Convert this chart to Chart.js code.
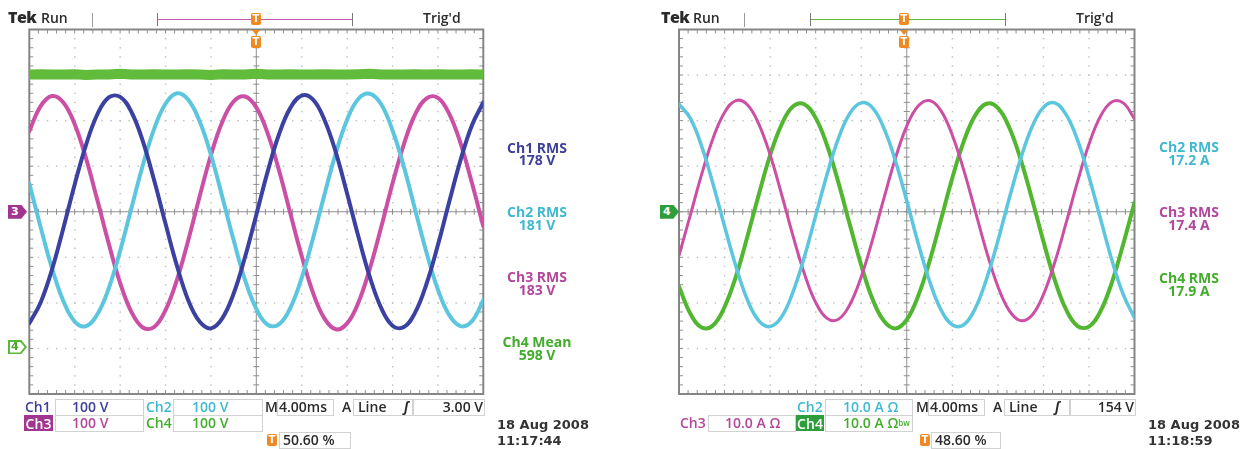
<!DOCTYPE html>
<html><head><meta charset="utf-8">
<script src="https://cdn.jsdelivr.net/npm/chart.js@4.4.1/dist/chart.umd.min.js"></script>
<style>
html,body{margin:0;padding:0;background:#fff;}
#page{position:relative;width:1250px;height:449px;overflow:hidden;font-family:"Open Sans",sans-serif;color:#2b2b2b;}
canvas{position:absolute;top:0;}
.t{position:absolute;white-space:nowrap;font-size:14px;line-height:14px;font-weight:600;}
.m{position:absolute;white-space:nowrap;font-size:14px;line-height:14px;font-weight:700;text-align:center;width:120px;}
.d{position:absolute;white-space:nowrap;font:bold 13px/13px "DejaVu Sans",sans-serif;color:#333;}
.box{position:absolute;border:1px solid #d2d2d2;box-sizing:border-box;}
.vl{position:absolute;width:1px;background:#9a9a9a;}
.trg{position:absolute;width:10px;height:12px;background:#f0891f;color:#fff;font:bold 10px/12px "DejaVu Sans",sans-serif;text-align:center;border-radius:2px;}
.tri{position:absolute;width:0;height:0;border-left:4px solid transparent;border-right:4px solid transparent;border-top:5px solid #f0891f;}
.mk{position:absolute;width:19px;height:14px;clip-path:polygon(0 0,70% 0,100% 50%,70% 100%,0 100%);color:#fff;font:bold 11px/14px "DejaVu Sans",sans-serif;text-indent:3px;}
.mki{position:absolute;left:1.5px;top:1.5px;width:15px;height:11px;background:#fff;clip-path:polygon(0 0,70% 0,100% 50%,70% 100%,0 100%);}
.brk{position:absolute;width:1px;height:13px;background:#777;}
.hl{position:absolute;height:1.5px;}
</style></head>
<body><div id="page">
<canvas id="cL" width="500" height="410" style="left:0"></canvas>
<canvas id="cR" width="500" height="410" style="left:650px"></canvas>

<!-- ===== left scope header ===== -->
<div class="t" style="left:8px;top:10px;font-size:16px;font-weight:800;letter-spacing:-0.5px">Tek</div>
<div class="t" style="left:41px;top:11px;font-size:14px">Run</div>
<div class="vl" style="left:92px;top:13px;height:14px"></div>
<div class="brk" style="left:157px;top:13px"></div>
<div class="brk" style="left:352px;top:13px"></div>
<div class="hl" style="left:158px;top:18.5px;width:194px;background:#c65aa8"></div>
<div class="trg" style="left:251px;top:13px">T</div>
<div class="tri" style="left:252px;top:30px"></div>
<div class="trg" style="left:251px;top:36px">T</div>
<div class="t" style="left:423px;top:11px;font-size:14px">Trig'd</div>

<!-- left measurements -->
<div class="m" style="left:477px;top:140.6px;color:#3d3f98">Ch1 RMS</div>
<div class="m" style="left:477px;top:152.6px;color:#3d3f98">178 V</div>
<div class="m" style="left:477px;top:204.6px;color:#3fb9d1">Ch2 RMS</div>
<div class="m" style="left:477px;top:217.6px;color:#3fb9d1">181 V</div>
<div class="m" style="left:477px;top:269.6px;color:#b2479b">Ch3 RMS</div>
<div class="m" style="left:477px;top:282.6px;color:#b2479b">183 V</div>
<div class="m" style="left:477px;top:334.6px;color:#42ad2c">Ch4 Mean</div>
<div class="m" style="left:477px;top:347.6px;color:#42ad2c">598 V</div>

<!-- left markers -->
<div class="mk" id="mkL3" style="left:8px;background:#a2358f">3</div>
<div class="mk" id="mkL4" style="left:8px;background:#5cb83a"><div class="mki"></div><span style="position:relative;color:#4aa82c">4</span></div>

<!-- left footer -->
<div class="box" style="left:55px;top:399px;width:89px;height:17px"></div>
<div class="box" style="left:55px;top:415px;width:89px;height:17px"></div>
<div class="box" style="left:173px;top:399px;width:90px;height:17px"></div>
<div class="box" style="left:173px;top:415px;width:90px;height:17px"></div>
<div class="t" style="left:25px;top:400px;color:#3d3f98">Ch1</div>
<div class="t" style="left:72px;top:400px;color:#3d3f98">100 V</div>
<div class="t" style="left:146px;top:400px;color:#3fb9d1">Ch2</div>
<div class="t" style="left:192px;top:400px;color:#3fb9d1">100 V</div>
<div class="t" style="left:265px;top:400px">M</div>
<div class="box" style="left:277px;top:399px;width:57px;height:17px"></div>
<div class="t" style="left:279px;top:400px">4.00ms</div>
<div class="t" style="left:342px;top:400px">A</div>
<div class="box" style="left:353px;top:399px;width:60px;height:17px"></div>
<div class="t" style="left:358px;top:400px">Line</div>
<div class="t" style="left:404px;top:400px;font-style:italic">ʃ</div>
<div class="box" style="left:413px;top:399px;width:72px;height:17px"></div>
<div class="t" style="left:440px;top:400px;width:43px;text-align:right">3.00 V</div>
<div class="t" style="left:24px;top:415px;width:29px;height:16px;background:#a2358f;color:#fff;text-align:center;line-height:17px">Ch3</div>
<div class="t" style="left:72px;top:416px;color:#b2479b">100 V</div>
<div class="t" style="left:146px;top:416px;color:#42ad2c">Ch4</div>
<div class="t" style="left:192px;top:416px;color:#42ad2c">100 V</div>
<div class="trg" style="left:267px;top:434px">T</div>
<div class="box" style="left:279px;top:432px;width:72px;height:17px"></div>
<div class="t" style="left:283px;top:433px">50.60 %</div>
<div class="d" style="left:497px;top:418px">18 Aug 2008</div>
<div class="d" style="left:497px;top:434px">11:17:44</div>

<!-- ===== right scope header ===== -->
<div class="t" style="left:661px;top:10px;font-size:16px;font-weight:800;letter-spacing:-0.5px">Tek</div>
<div class="t" style="left:693px;top:11px;font-size:14px">Run</div>
<div class="vl" style="left:744px;top:13px;height:14px"></div>
<div class="brk" style="left:810px;top:13px"></div>
<div class="brk" style="left:1005px;top:13px"></div>
<div class="hl" style="left:811px;top:18.5px;width:194px;background:#5cb83a"></div>
<div class="trg" style="left:899px;top:13px">T</div>
<div class="tri" style="left:900px;top:30px"></div>
<div class="trg" style="left:899px;top:36px">T</div>
<div class="t" style="left:1076px;top:11px;font-size:14px">Trig'd</div>

<!-- right measurements -->
<div class="m" style="left:1129px;top:139.6px;color:#3fb9d1">Ch2 RMS</div>
<div class="m" style="left:1129px;top:152.6px;color:#3fb9d1">17.2 A</div>
<div class="m" style="left:1129px;top:204.6px;color:#b2479b">Ch3 RMS</div>
<div class="m" style="left:1129px;top:217.6px;color:#b2479b">17.4 A</div>
<div class="m" style="left:1129px;top:270.6px;color:#42ad2c">Ch4 RMS</div>
<div class="m" style="left:1129px;top:283.6px;color:#42ad2c">17.9 A</div>

<div class="mk" id="mkR4" style="left:660px;background:#2e9e3c">4</div>

<!-- right footer -->
<div class="t" style="left:797px;top:400px;color:#3fb9d1">Ch2</div>
<div class="box" style="left:825px;top:399px;width:88px;height:17px"></div>
<div class="t" style="left:843px;top:400px;color:#3fb9d1">10.0 A Ω</div>
<div class="t" style="left:916px;top:400px">M</div>
<div class="box" style="left:928px;top:399px;width:57px;height:17px"></div>
<div class="t" style="left:930px;top:400px">4.00ms</div>
<div class="t" style="left:993px;top:400px">A</div>
<div class="box" style="left:1004px;top:399px;width:66px;height:17px"></div>
<div class="t" style="left:1009px;top:400px">Line</div>
<div class="t" style="left:1055px;top:400px;font-style:italic">ʃ</div>
<div class="box" style="left:1070px;top:399px;width:66px;height:17px"></div>
<div class="t" style="left:1090px;top:400px;width:44px;text-align:right">154 V</div>
<div class="t" style="left:680px;top:416px;color:#b2479b">Ch3</div>
<div class="box" style="left:708px;top:415px;width:88px;height:17px"></div>
<div class="t" style="left:725px;top:416px;color:#b2479b">10.0 A Ω</div>
<div class="t" style="left:796px;top:415px;width:28px;height:16px;background:#2e9e3c;color:#fff;text-align:center;line-height:17px">Ch4</div>
<div class="box" style="left:825px;top:415px;width:88px;height:17px"></div>
<div class="t" style="left:843px;top:416px;color:#42ad2c">10.0 A Ω<span style="font-size:8px;vertical-align:top">bw</span></div>
<div class="trg" style="left:920px;top:434px">T</div>
<div class="box" style="left:931px;top:432px;width:70px;height:17px"></div>
<div class="t" style="left:935px;top:433px">48.60 %</div>
<div class="d" style="left:1148px;top:418px">18 Aug 2008</div>
<div class="d" style="left:1148px;top:434px">11:18:59</div>
</div>

<script>
// ---------- data (time in ms, 4 ms/div) ----------
const timeMs = [0,1,2,3,4,5,6,7,8,9,10,11,12,13,14,15,16,17,18,19,20,21,22,23,24,25,26,27,28,29,30,31,32,33,34,35,36,37,38,39,40];

// left screen: phase voltages (V), 100 V/div
const leftCh1 = [-245,-199,-127,-36,60,147,214,251,252,219,155,69,-26,-118,-194,-241,-256,-234,-180,-100,-7,88,170,228,255,246,202,131,40,-55,-143,-211,-250,-253,-221,-158,-73,22,114,190,240];
const leftCh2 = [62,-34,-124,-196,-241,-251,-225,-168,-86,8,102,182,237,260,246,199,125,33,-62,-149,-213,-248,-247,-211,-145,-58,37,128,202,248,259,236,179,99,4,-90,-171,-227,-251,-240,-194];
const leftCh3 = [177,232,254,240,192,117,25,-70,-156,-220,-254,-253,-216,-150,-63,33,124,197,242,253,229,172,91,-4,-97,-178,-234,-258,-245,-199,-125,-34,62,148,214,249,250,215,150,63,-32];
// left screen: DC link voltage (V), 100 V/div, ground marker at -2.97 div
const leftCh4 = [598,599,598,598,599,597,598,598,600,598,598,599,598,598,599,598,597,599,598,598,600,598,598,599,598,598,599,598,598,599,600,598,598,598,599,598,599,598,598,599,598];

// right screen: phase currents (A), 10 A/div
const rightCh2 = [23.6,20.5,14.3,6.0,-3.2,-12.0,-19.3,-23.9,-25.2,-23.1,-17.7,-10.0,-0.9,8.2,16.1,21.6,23.9,22.8,18.3,11.2,2.4,-6.9,-15.2,-21.5,-24.8,-24.8,-21.3,-14.8,-6.4,2.9,11.6,18.6,22.9,23.9,21.3,15.7,7.7,-1.4,-10.5,-18.1,-23.3];
const rightCh3 = [-9.6,-0.7,8.3,16.2,21.8,24.4,23.5,19.3,12.5,3.9,-5.2,-13.5,-19.9,-23.4,-23.6,-20.4,-14.3,-6.1,3.0,11.7,18.8,23.2,24.4,22.2,16.8,9.2,0.3,-8.7,-16.4,-21.7,-23.9,-22.7,-18.2,-11.1,-2.4,6.6,14.8,20.9,24.1,23.9,20.4];
const rightCh4 = [-16.4,-22.4,-25.4,-24.9,-20.9,-14.2,-5.5,3.7,12.4,19.1,23.1,23.6,20.6,14.6,6.4,-2.8,-11.7,-19.2,-24.0,-25.6,-23.7,-18.5,-10.9,-1.8,7.4,15.4,21.1,23.7,22.8,18.5,11.5,2.8,-6.5,-15.0,-21.5,-25.1,-25.2,-21.9,-15.6,-7.2,2.0];

// vertical settings (per division) and the Ch4 ground offset on the left screen
const leftVoltsPerDiv = 100, rightAmpsPerDiv = 10, leftCh4OffsetDiv = -2.97;

const C1 = '#3a41a0', C2 = '#5cc6de', C3 = '#cb4fa4', C4 = '#62bc3c';

function pts(vals){ return vals.map((v,i)=>({x:timeMs[i], y:v})); }

const graticule = {
  id:'grat',
  beforeDatasetsDraw(chart){
    const {ctx, chartArea:a} = chart;
    const xs = chart.scales.x, ys = chart.scales.y;
    const yStep = (ys.max - ys.min)/40, xStep = (xs.max - xs.min)/50;
    ctx.save();
    ctx.fillStyle = '#bdbdbd';
    for (let i=1;i<10;i++){
      if (i===5) continue;
      const px = xs.getPixelForValue(xs.min + i*5*xStep);
      for (let j=1;j<40;j++){ const py = ys.getPixelForValue(ys.min + j*yStep); ctx.fillRect(px-0.6, py-0.6, 1.4, 1.4); }
    }
    for (let j=1;j<8;j++){
      if (j===4) continue;
      const py = ys.getPixelForValue(ys.min + j*5*yStep);
      for (let i=1;i<50;i++){ const px = xs.getPixelForValue(xs.min + i*xStep); ctx.fillRect(px-0.6, py-0.6, 1.4, 1.4); }
    }
    const cx = xs.getPixelForValue((xs.min+xs.max)/2), cy = ys.getPixelForValue((ys.min+ys.max)/2);
    ctx.strokeStyle = '#8f8f8f'; ctx.lineWidth = 1;
    ctx.beginPath();
    ctx.moveTo(cx, a.top); ctx.lineTo(cx, a.bottom);
    ctx.moveTo(a.left, cy); ctx.lineTo(a.right, cy);
    for (let i=1;i<50;i++){
      const px = xs.getPixelForValue(xs.min + i*xStep);
      ctx.moveTo(px, cy-3); ctx.lineTo(px, cy+3);
      ctx.moveTo(px, a.top); ctx.lineTo(px, a.top+4);
      ctx.moveTo(px, a.bottom); ctx.lineTo(px, a.bottom-4);
    }
    for (let j=1;j<40;j++){
      const py = ys.getPixelForValue(ys.min + j*yStep);
      ctx.moveTo(cx-3, py); ctx.lineTo(cx+3, py);
      ctx.moveTo(a.left, py); ctx.lineTo(a.left+4, py);
      ctx.moveTo(a.right, py); ctx.lineTo(a.right-4, py);
    }
    ctx.stroke();
    ctx.lineWidth = 2; ctx.strokeStyle = '#858585';
    ctx.strokeRect(a.left, a.top, a.right-a.left, a.bottom-a.top);
    ctx.restore();
  }
};

function makeScope(id, padding, yRange, datasets, extraScales){
  return new Chart(document.getElementById(id), {
    type:'line',
    data:{ datasets },
    options:{
      responsive:false, animation:false, devicePixelRatio:1,
      layout:{ padding },
      plugins:{ legend:{display:false}, tooltip:{enabled:false} },
      elements:{ point:{radius:0}, line:{tension:0.4, borderCapStyle:'round', borderJoinStyle:'round'} },
      scales:Object.assign({
        x:{ type:'linear', min:0, max:40, display:false },
        y:{ type:'linear', min:yRange[0], max:yRange[1], display:false }
      }, extraScales || {})
    },
    plugins:[graticule]
  });
}

const lRange = [-4*leftVoltsPerDiv, 4*leftVoltsPerDiv];
const l4Range = [(-4 - leftCh4OffsetDiv)*leftVoltsPerDiv, (4 - leftCh4OffsetDiv)*leftVoltsPerDiv];
const chartL = makeScope('cL', {left:29.3, top:29.5, right:16.7, bottom:16}, lRange, [
  {label:'Ch1', data:pts(leftCh1), borderColor:C1, borderWidth:4},
  {label:'Ch2', data:pts(leftCh2), borderColor:C2, borderWidth:4},
  {label:'Ch3', data:pts(leftCh3), borderColor:C3, borderWidth:4},
  {label:'Ch4', data:pts(leftCh4), borderColor:C4, borderWidth:10, tension:0, yAxisID:'y4'}
], { y4:{ type:'linear', min:l4Range[0], max:l4Range[1], display:false } });

const rRange = [-4*rightAmpsPerDiv, 4*rightAmpsPerDiv];
const chartR = makeScope('cR', {left:29, top:29.5, right:15.5, bottom:16}, rRange, [
  {label:'Ch2', data:pts(rightCh2), borderColor:C2, borderWidth:3.5},
  {label:'Ch3', data:pts(rightCh3), borderColor:C3, borderWidth:3},
  {label:'Ch4', data:pts(rightCh4), borderColor:'#52b630', borderWidth:4}
]);

// channel ground markers placed from the scales
document.getElementById('mkL3').style.top = (chartL.scales.y.getPixelForValue(0) - 7) + 'px';
document.getElementById('mkL4').style.top = (chartL.scales.y4.getPixelForValue(0) - 7) + 'px';
document.getElementById('mkR4').style.top = (chartR.scales.y.getPixelForValue(0) - 7) + 'px';
</script>
</body></html>
